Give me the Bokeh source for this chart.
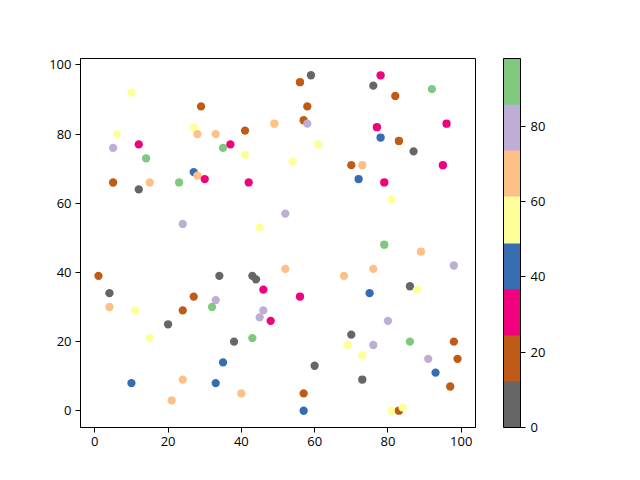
from bokeh.plotting import figure
from bokeh.models import ColumnDataSource, LinearColorMapper, ColorBar, FixedTicker, Range1d
from bokeh.palettes import Accent8
from bokeh.embed import file_html
from bokeh.resources import INLINE

xs = [10, 29, 27, 28, 33, 41, 49, 6, 5, 12, 14, 35, 37, 41, 27, 28, 30, 23, 42, 5,
      12, 15, 24, 45, 59, 56, 78, 76, 92, 82, 58, 57, 58, 96, 77, 78, 83, 87, 61, 54,
      70, 73, 95, 72, 79, 81, 52, 79, 1, 4, 4, 11, 15, 10, 20, 24, 27, 24, 21, 33,
      32, 34, 35, 33, 38, 40, 43, 44, 46, 46, 45, 48, 43, 89, 52, 68, 76, 98, 86, 88,
      56, 75, 80, 70, 69, 76, 86, 98, 73, 91, 99, 60, 93, 73, 97, 57, 57, 81, 83, 84]
ys = [92, 88, 82, 80, 80, 81, 83, 80, 76, 77, 73, 76, 77, 74, 69, 68, 67, 66, 66, 66,
      64, 66, 54, 53, 97, 95, 97, 94, 93, 91, 88, 84, 83, 83, 82, 79, 78, 75, 77, 72,
      71, 71, 71, 67, 66, 61, 57, 48, 39, 34, 30, 29, 21, 8, 25, 29, 33, 9, 3, 32,
      30, 39, 14, 8, 20, 5, 39, 38, 35, 29, 27, 26, 21, 46, 41, 39, 41, 42, 36, 35,
      33, 34, 26, 22, 19, 19, 20, 20, 16, 15, 15, 13, 11, 9, 7, 5, 0, 0, 0, 1]
cs = [55, 18, 55, 67, 67, 18, 67, 55, 80, 30, 92, 92, 30, 55, 43, 67, 30, 92, 30, 18,
      6, 67, 80, 55, 6, 18, 30, 6, 92, 18, 18, 18, 80, 30, 30, 43, 18, 6, 55, 55,
      18, 67, 30, 43, 30, 55, 80, 92, 18, 6, 67, 55, 55, 43, 6, 18, 18, 67, 67, 80,
      92, 6, 43, 43, 6, 67, 6, 6, 30, 80, 80, 30, 92, 67, 67, 67, 67, 80, 6, 55,
      30, 43, 80, 6, 55, 80, 92, 18, 55, 80, 18, 6, 43, 6, 18, 18, 43, 55, 18, 55]
cbar_ticks = [0, 20, 40, 60, 80]
c_low, c_high = 0, 98

FONT = "Open Sans"
FS = "13px"

source = ColumnDataSource(dict(x=xs, y=ys, c=cs))
mapper = LinearColorMapper(palette=list(Accent8[::-1]), low=c_low, high=c_high)

p = figure(frame_width=395, frame_height=369, output_backend="svg", toolbar_location=None,
           x_range=Range1d(-3.9, 103.9), y_range=Range1d(-4.85, 101.85),
           min_border_left=80, min_border_top=58, min_border_bottom=50, min_border_right=155)
p.background_fill_color = "white"
p.border_fill_color = "white"
p.outline_line_color = "black"
p.outline_line_width = 1
p.grid.visible = False

p.scatter("x", "y", source=source, size=8.3, line_color=None,
          fill_color={"field": "c", "transform": mapper})

for ax in (p.xaxis[0], p.yaxis[0]):
    ax.ticker = FixedTicker(ticks=[0, 20, 40, 60, 80, 100])
    ax.major_tick_in = 0
    ax.major_tick_out = 5
    ax.minor_tick_line_color = None
    ax.axis_line_color = "black"
    ax.major_label_text_font = FONT
    ax.major_label_text_font_size = FS
    ax.major_label_text_color = "black"
    ax.major_label_standoff = 4

cb = ColorBar(color_mapper=mapper, width=17, height="auto", padding=0, margin=0,
              location=(28, 0),
              ticker=FixedTicker(ticks=cbar_ticks), major_tick_in=0, major_tick_out=5,
              major_tick_line_color="black", minor_tick_line_color=None,
              bar_line_color="black", bar_line_width=1, border_line_color=None,
              background_fill_color=None, label_standoff=5,
              major_label_text_font=FONT, major_label_text_font_size=FS,
              major_label_text_color="black")
p.add_layout(cb, "right")

open("out.html", "w").write(file_html(p, INLINE))
